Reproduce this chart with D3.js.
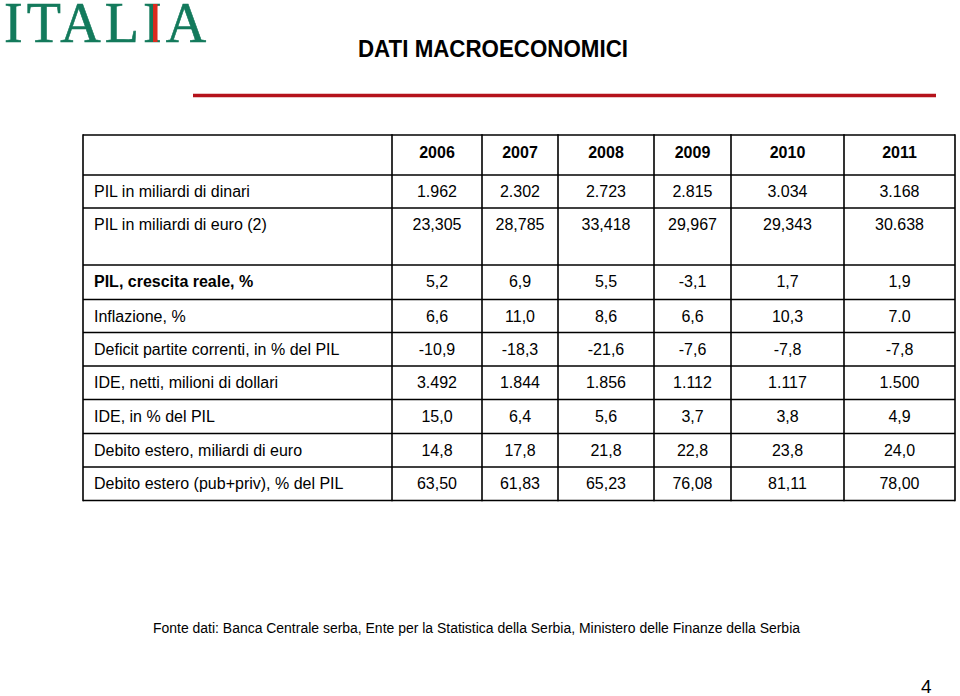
<!DOCTYPE html>
<html>
<head>
<meta charset="utf-8">
<script src="https://cdn.jsdelivr.net/npm/d3@7"></script>
<style>
  body { margin: 0; background: #fff; }
  svg { display: block; }
  text { font-family: "Liberation Sans", Arial, sans-serif; }
</style>
</head>
<body>
<div id="chart"></div>
<script>
// dati della tabella
var years = ["2006", "2007", "2008", "2009", "2010", "2011"];
var labels = [
    "PIL in miliardi di dinari",
    "PIL in miliardi di euro (2)",
    "PIL, crescita reale, %",
    "Inflazione, %",
    "Deficit partite correnti, in % del PIL",
    "IDE, netti, milioni di dollari",
    "IDE, in % del PIL",
    "Debito estero, miliardi di euro",
    "Debito estero (pub+priv), % del PIL"
];
var pilDinari    = ["1.962", "2.302", "2.723", "2.815", "3.034", "3.168"];
var pilEuro      = ["23,305", "28,785", "33,418", "29,967", "29,343", "30.638"];
var crescita     = ["5,2", "6,9", "5,5", "-3,1", "1,7", "1,9"];
var inflazione   = ["6,6", "11,0", "8,6", "6,6", "10,3", "7.0"];
var deficit      = ["-10,9", "-18,3", "-21,6", "-7,6", "-7,8", "-7,8"];
var ideNetti     = ["3.492", "1.844", "1.856", "1.112", "1.117", "1.500"];
var idePil       = ["15,0", "6,4", "5,6", "3,7", "3,8", "4,9"];
var debito       = ["14,8", "17,8", "21,8", "22,8", "23,8", "24,0"];
var debitoPil    = ["63,50", "61,83", "65,23", "76,08", "81,11", "78,00"];
var boldRows = ["PIL, crescita reale, %"];
var title = "DATI MACROECONOMICI";
var fonte = "Fonte dati: Banca Centrale serba, Ente per la Statistica della Serbia, Ministero delle Finanze della Serbia";

var rows = [pilDinari, pilEuro, crescita, inflazione, deficit, ideNetti, idePil, debito, debitoPil];

// layout
var W = 960, H = 696;
var colEdges = [83, 392, 482, 558, 654, 731, 844, 955];
var rowHeights = [40, 33, 57, 34.5, 33, 33.5, 33.5, 34, 33.5, 33.5];
var tableTop = 135;

var svg = d3.select("#chart").append("svg")
    .attr("width", W)
    .attr("height", H);

// logo ITALIA
var green = "#137a5c", red = "#dc2a1f";
var logo = svg.append("text")
    .attr("x", 4)
    .attr("y", 42)
    .style("font-family", "'Liberation Serif', 'Times New Roman', serif")
    .style("font-size", "56px")
    .style("letter-spacing", "4px")
    .style("stroke", green)
    .style("stroke-width", 0.6)
    .style("fill", green)
    .text("ITALIA");
var ext = logo.node().getExtentOfChar(4);
svg.append("rect")
    .attr("x", ext.x + 10)
    .attr("y", 4)
    .attr("width", 4.5)
    .attr("height", 38)
    .style("fill", red);

// titolo
svg.append("text")
    .attr("x", 358)
    .attr("y", 57)
    .attr("textLength", 270)
    .attr("lengthAdjust", "spacingAndGlyphs")
    .style("font-size", "23px")
    .style("font-weight", "bold")
    .style("fill", "#000")
    .text(title);

svg.append("line")
    .attr("x1", 193).attr("x2", 936)
    .attr("y1", 95.5).attr("y2", 95.5)
    .style("stroke", "#b5121b")
    .style("stroke-width", 3.5);

// righe della tabella
var rowEdges = [tableTop];
rowHeights.forEach(function (h) { rowEdges.push(rowEdges[rowEdges.length - 1] + h); });

var colCenter = function (i) { return (colEdges[i + 1] + colEdges[i + 2]) / 2; };

var table = svg.append("g");

table.selectAll("line.h")
    .data(rowEdges)
    .enter().append("line")
    .attr("class", "h")
    .attr("x1", colEdges[0]).attr("x2", colEdges[colEdges.length - 1])
    .attr("y1", function (d) { return d; })
    .attr("y2", function (d) { return d; })
    .style("stroke", "#000")
    .style("stroke-width", 1.6);

table.selectAll("line.v")
    .data(colEdges)
    .enter().append("line")
    .attr("class", "v")
    .attr("y1", rowEdges[0] - 0.8).attr("y2", rowEdges[rowEdges.length - 1] + 0.8)
    .attr("x1", function (d) { return d; })
    .attr("x2", function (d) { return d; })
    .style("stroke", "#000")
    .style("stroke-width", 1.6);

// intestazione anni
table.selectAll("text.year")
    .data(years)
    .enter().append("text")
    .attr("class", "year")
    .attr("x", function (d, i) { return colCenter(i); })
    .attr("y", rowEdges[0] + 22.5)
    .attr("text-anchor", "middle")
    .style("font-size", "16px")
    .style("font-weight", "bold")
    .text(function (d) { return d; });

// etichette
table.selectAll("text.label")
    .data(labels)
    .enter().append("text")
    .attr("class", "label")
    .attr("x", 94)
    .attr("y", function (d, i) { return rowEdges[i + 1] + 22; })
    .style("font-size", "16px")
    .style("font-weight", function (d) { return boldRows.indexOf(d) >= 0 ? "bold" : "normal"; })
    .text(function (d) { return d; });

// valori
rows.forEach(function (vals, r) {
    table.selectAll("text.v" + r)
        .data(vals)
        .enter().append("text")
        .attr("class", "v" + r)
        .attr("x", function (d, i) { return colCenter(i); })
        .attr("y", rowEdges[r + 1] + 22)
        .attr("text-anchor", "middle")
        .style("font-size", "16px")
        .text(function (d) { return d; });
});

// fonte
svg.append("text")
    .attr("x", 153)
    .attr("y", 633)
    .style("font-size", "14px")
    .attr("textLength", 647)
    .attr("lengthAdjust", "spacingAndGlyphs")
    .text(fonte);

svg.append("text")
    .attr("x", 921)
    .attr("y", 693)
    .style("font-size", "19px")
    .text("4");
</script>
</body>
</html>
